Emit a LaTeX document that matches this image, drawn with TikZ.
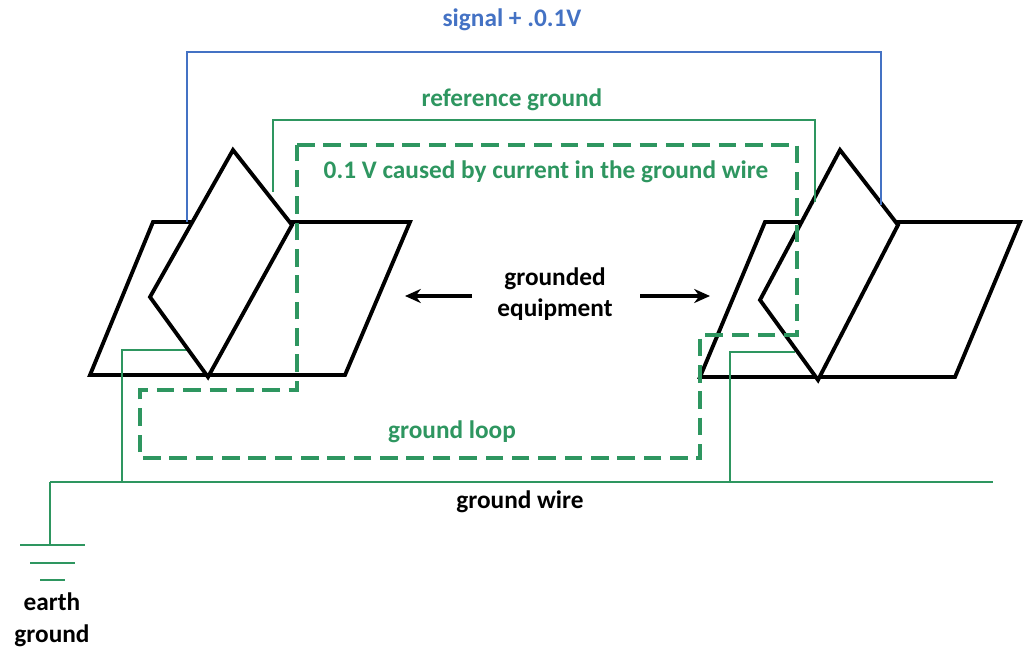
\documentclass[tikz,border=0pt]{standalone}
\usepackage{fontspec}
\setmainfont{Carlito}
\usetikzlibrary{arrows.meta, positioning}
\definecolor{gnd}{RGB}{46,150,96}
\definecolor{sig}{RGB}{68,114,196}
\tikzset{
  plate/.style={draw=black, line width=2.2pt, fill=white},
  wire/.style={draw=gnd, line width=1.1pt},
  loopline/.style={draw=gnd, line width=2pt, dash pattern=on 10pt off 5pt},
  lbl/.style={font=\bfseries\Large, align=center},
  pointer/.style={-{Stealth[length=9pt,width=8pt]}, line width=1.8pt}
}
\begin{document}
\begin{tikzpicture}[x=0.02cm, y=-0.02cm]
  \useasboundingbox (0,0) rectangle (1024,666);

  % ground wire and earth symbol
  \draw[wire] (50,482) coordinate (gwl) -- (993,482) coordinate (gwr);
  \draw[wire] (gwl) -- (50,545);
  \draw[wire] (20,545) -- (85,545);
  \draw[wire] (30,563) -- (75,563);
  \draw[wire] (40,580) -- (65,580);

  % left equipment
  \draw[plate] (90,375) -- (345,375) -- (410,222) -- (153,222) -- cycle;
  \draw[wire] (122,482) -- (122,350) -- (190,350);
  \draw[plate] (150,297) -- (233,150) -- (292,225) -- (208,377) -- cycle;

  % right equipment
  \draw[plate] (700,377) -- (955,377) -- (1020,222) -- (765,222) -- cycle;
  \draw[wire] (730,482) -- (730,352) -- (795,352);
  \draw[plate] (760,300) -- (840,150) -- (898,225) -- (818,380) -- cycle;

  % signal and reference
  \draw[draw=sig, line width=1.3pt] (187,222) -- (187,52) -- (881,52) -- (881,205);
  \draw[wire] (273,192) -- (273,120) -- (815,120) -- (815,202);

  % ground loop
  \draw[loopline] (297,145) -- (797,145) -- (797,335) -- (700,335) -- (700,458)
    -- (140,458) -- (140,390) -- (297,390) -- cycle;

  % labels
  \node[lbl, text=sig] (signal) at (512,20) {signal + .0.1V};
  \node[lbl, text=gnd] (refgnd) at (512,100) {reference ground};
  \node[lbl, text=gnd] (drop) at (546,172) {0.1 V caused by current in the ground wire};
  \node[lbl, text=gnd] (gloop) at (452,432) {ground loop};
  \node[lbl] (equip) at (555,294) {grounded\\equipment};
  \node[lbl] (gwire) at (520,502) {ground wire};
  \node[lbl] (earth) at (52,620) {earth\\ground};

  \coordinate (leftbox) at (405,296);
  \coordinate (rightbox) at (710,296);
  \draw[pointer] (472,296) -- (leftbox);
  \draw[pointer] (640,296) -- (rightbox);
\end{tikzpicture}
\end{document}
